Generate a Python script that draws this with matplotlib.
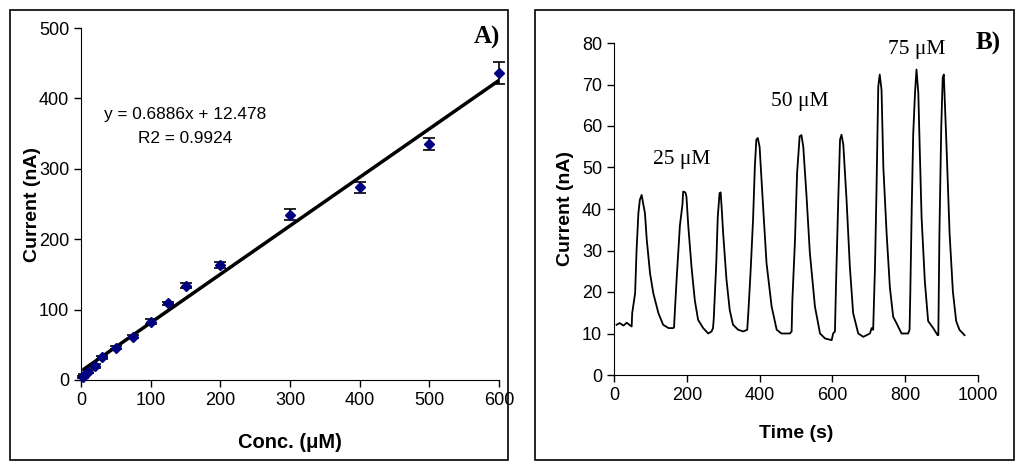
import matplotlib
matplotlib.use("Agg")
import matplotlib.pyplot as plt
from matplotlib.patches import Rectangle
import numpy as np

plt.rcParams['font.family'] = ['Liberation Sans', 'DejaVu Sans']

# A) calibration
conc = [2.5, 5, 10, 20, 30, 50, 75, 100, 125, 150, 200, 300, 400, 500, 600]
current = [4, 7, 11.8, 20.4, 32, 46, 61.6, 83, 109, 133.6, 163.5, 234.6, 273.5, 335.5, 436]
err = [1.5, 2, 2, 3, 2.5, 2.5, 2.5, 3, 2.5, 3.5, 4, 8, 8.3, 8.3, 15.4]
slope, intercept = 0.6886, 12.478
fit_x = [5, 600]

# B) amperometric trace
time_s = [7, 16, 26, 35, 42, 48.5, 50, 58, 62, 67, 71, 76, 80, 85, 90, 99, 108, 122, 135, 150, 163,
          165, 167, 172, 181, 188, 190, 196, 199, 204, 213, 222, 231, 245, 259, 268, 272,
          274, 281, 285, 290, 293, 296, 300, 309, 318, 327, 341, 355, 366,
          369, 375, 382, 387, 391, 395, 400, 410, 419, 433, 447, 460, 483, 488,
          490, 497, 503, 510, 515, 520, 529, 538, 552, 566, 580, 598, 602, 607,
          610, 616, 621, 625, 630, 639, 648, 657, 671, 685, 703, 708, 712,
          717, 721, 726, 730, 735, 740, 749, 758, 767, 776, 790, 808, 812,
          814, 818, 822, 827, 831, 836, 840, 845, 854, 863, 877, 889, 891,
          894, 899, 903, 906, 913, 922, 931, 940, 949, 963]
signal = [12.1, 12.5, 11.9, 12.6, 12.1, 11.7, 14.9, 19.7, 30.1, 39.0, 42.2, 43.4, 41.4, 39.0, 32.6, 24.5, 19.7, 14.9, 12.1, 11.3, 11.3,
          11.5, 15, 23, 36, 41, 44.2, 44, 43, 36, 26, 18, 13.3, 11.3, 10, 10.5, 11.3,
          13.5, 27, 38, 43.8, 44, 40, 34, 23, 15.6, 12.1, 10.9, 10.5, 10.9,
          15, 24.5, 37.4, 50.3, 56.7, 57.1, 55, 40, 27, 16.5, 10.9, 10, 10, 10.5,
          18, 32, 48.6, 57.5, 57.8, 55, 43, 29.5, 16.5, 10, 8.8, 8.4, 10, 10.5,
          22, 42, 56.7, 57.9, 55.5, 42, 26, 14.9, 10, 9.2, 10, 11.3, 10.9,
          26, 43.8, 69.5, 72.4, 68.7, 50, 34, 21, 14, 12.5, 10, 10, 10.9,
          19.7, 40.6, 58, 68, 73.6, 68, 54.3, 38, 22.5, 13, 11.3, 9.6, 9.6,
          34, 59.5, 71.6, 72.4, 56.3, 34, 20.1, 13, 10.9, 9.6]
labels_b = ['25 μM', '50 μM', '75 μM']
labels_b_pos = [(186, 52), (510, 66), (831, 78.5)]

fig = plt.figure(figsize=(10.24, 4.7), dpi=100)

# outer frames
for x0, x1 in [(10, 508), (535, 1014)]:
    fig.patches.append(Rectangle((x0 / 1024, 10 / 470), (x1 - x0) / 1024, 450 / 470,
                                 transform=fig.transFigure, fill=False, ec='black', lw=1.2))

serif = ['Liberation Serif', 'DejaVu Serif']

# ---- panel A
axA = fig.add_axes([81 / 1024, 90 / 470, 418 / 1024, 352 / 470])
axA.errorbar(conc, current, yerr=err, fmt='none', ecolor='black', elinewidth=1.2,
             capsize=4, capthick=1.2, clip_on=False)
axA.plot(conc, current, 'D', color='#000080', markersize=5, zorder=3, clip_on=False)
fx = np.array(fit_x)
axA.plot(fx, slope * fx + intercept, color='black', lw=2.5)
axA.set_xlim(0, 600)
axA.set_ylim(0, 500)
axA.set_xticks(range(0, 601, 100))
axA.set_yticks(range(0, 501, 100))
axA.set_xlabel('Conc. (μM)', fontsize=14.5, fontweight='bold')
axA.set_ylabel('Current (nA)', fontsize=14, fontweight='bold')
axA.xaxis.set_label_coords(0.5, -0.15)
axA.yaxis.set_label_coords(-0.095, 0.5)
axA.text(0.25, 0.755, 'y = 0.6886x + 12.478', transform=axA.transAxes, fontsize=12.4, ha='center', va='center')
axA.text(0.25, 0.687, 'R2 = 0.9924', transform=axA.transAxes, fontsize=12.4, ha='center', va='center')

# ---- panel B
axB = fig.add_axes([614 / 1024, 95 / 470, 364 / 1024, 332 / 470])
axB.plot(time_s, signal, color='black', lw=1.3)
axB.set_xlim(0, 1000)
axB.set_ylim(0, 80)
axB.set_xticks(range(0, 1001, 200))
axB.set_yticks(range(0, 81, 10))
axB.set_xlabel('Time (s)', fontsize=14, fontweight='bold')
axB.set_ylabel('Current (nA)', fontsize=14, fontweight='bold')
axB.xaxis.set_label_coords(0.5, -0.15)
axB.yaxis.set_label_coords(-0.11, 0.5)
for txt, (tx, ty) in zip(labels_b, labels_b_pos):
    axB.text(tx, ty, txt, fontsize=15.5, family=serif, ha='center', va='center')

for ax in (axA, axB):
    ax.spines['top'].set_visible(False)
    ax.spines['right'].set_visible(False)
    ax.tick_params(direction='out', length=5, labelsize=13, width=1)
    ax.set_facecolor('none')

fig.text(487 / 1024, 1 - 37 / 470, 'A)', fontsize=18, fontweight='bold', family=serif, ha='center', va='center')
fig.text(988 / 1024, 1 - 43 / 470, 'B)', fontsize=18, fontweight='bold', family=serif, ha='center', va='center')

fig.savefig('out.png', dpi=100)
